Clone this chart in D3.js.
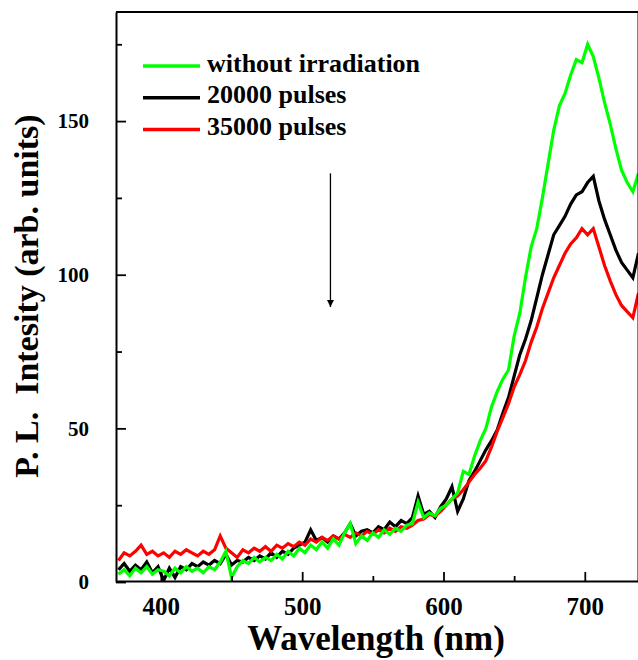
<!DOCTYPE html>
<html>
<head>
<meta charset="utf-8">
<script src="https://cdn.jsdelivr.net/npm/d3@7"></script>
<style>
  body { margin: 0; background: #fff; }
  svg { display: block; }
  text { font-family: "Liberation Serif", "Times New Roman", serif; font-weight: bold; fill: #000; }
</style>
</head>
<body>
<svg width="638" height="660"></svg>
<script>
// PL spectra, values (arb. units)
var wavelength = [370,374,378,382,386,390,394,398,402,406,410,414,418,422,426,430,434,438,
  442,446,450,454,458,462,466,470,474,478,482,486,490,494,498,502,506,510,
  514,518,522,526,530,534,538,542,546,550,554,558,562,566,570,574,578,582,
  586,590,594,598,602,606,610,614,618,622,626,630,634,638,642,646,650,654,
  658,662,666,670,674,678,682,686,690,694,698,702,706,710,714,718,722,726,
  730,734,738];

var withoutIrr = [2.5,4,2,4.5,3,5,2.5,4,3.5,2,4.5,3,5,3.5,4.5,3,5,4,
  6.5,10,1.5,5,7,6,8,6.5,8,7,9,7.5,10,8.5,11,9.5,12,10.5,
  13,11,14,12,16,19,12.5,15,13.5,16,14.5,17,15.5,17.5,16.5,18.5,19,26,
  21,22.5,21.5,24,25,27,29,36,35,41,46,50,57,62,66,69,80,87.5,
  99,109,115,125,136,147,155,159,165,170,169,175,171,164,156,149,141,134,
  130,127,133];

var pulses20000 = [4,6,3.5,5.5,4,6.5,3,5,0.5,4.5,1.5,5,4,6,5,6.5,5.5,7,
  6,9,5.5,7,6.5,8,7,8.5,7.5,9.5,8,10,9,11,12,13,17,13.5,
  14.5,13,15,14,16,19,15,16.5,17,16,18,17,19.5,18,20,19,21,28,
  22,23,21,24.5,27,31,23,27,33,36,39.5,43,46,49.5,55,60,67,74,
  79,85,92.5,100,106.5,113,116,119,123,126,127,130,132,124,118,113,108,104,
  101.5,99,107];

var pulses35000 = [7,9.5,8.5,10,12,9,10,8.5,9.5,8,10,9,10.5,9.5,8.5,10,9,10.5,
  15,11,9.5,8,10.5,9.5,11,10,11.5,10,12,11,12.5,11.5,13,12,14,13,
  14.5,13.5,15,14,15.5,14.5,16,15,16.5,15.5,17,16,17.5,16.5,18,17.5,18.5,20,
  20.5,22,21.5,23,25,27,28,30,32.5,35,37,39.5,44,49,53.5,58,63.5,67.5,
  72,78,83,89,94,99,103,107,110,112,115,113,115,109,103,98,93.5,90,
  88,86,94];

var xTicks = [400, 500, 600, 700];
var xMinor = [450, 550, 650];
var yTicks = [0, 50, 100, 150];
var yMinor = [25, 75, 125, 175];

// arrow marking the decrease (wavelength, from, to)
var arrowAt = 520, arrowFrom = 133, arrowTo = 89.5;

var svg = d3.select("svg");

var x = d3.scaleLinear().domain([368.6, 738]).range([116.5, 638.5]),
    y = d3.scaleLinear().domain([0, 185.5]).range([582, 12]);

svg.append("defs").append("clipPath").attr("id", "plot")
  .append("rect").attr("x", 117).attr("y", 12).attr("width", 521).attr("height", 570);

var series = [
  {name: "20000 pulses", values: pulses20000, color: "#000000"},
  {name: "35000 pulses", values: pulses35000, color: "#ff0000"},
  {name: "without irradiation", values: withoutIrr, color: "#00ff00"}
];

var line = d3.line()
  .x(function(d, i) { return x(wavelength[i]); })
  .y(function(d) { return y(d); });

svg.append("g").attr("clip-path", "url(#plot)")
  .selectAll("path")
  .data(series)
  .enter().append("path")
    .attr("d", function(s) { return line(s.values); })
    .attr("fill", "none")
    .attr("stroke", function(s) { return s.color; })
    .attr("stroke-width", 3.2);

// frame (top and right)
svg.append("path")
  .attr("d", "M116,12H638.5V582")
  .attr("fill", "none").attr("stroke", "#000").attr("stroke-width", 2);

// axes, ticks point inward
var gx = svg.append("g").attr("transform", "translate(0,581)")
  .call(d3.axisBottom(x).tickValues(xTicks).tickSize(-9).tickSizeOuter(0).tickPadding(16));
svg.append("g").attr("transform", "translate(0,581)")
  .call(d3.axisBottom(x).tickValues(xMinor).tickSize(-5).tickSizeOuter(0).tickFormat(""))
  .select(".domain").remove();
gx.selectAll("text").style("font-size", "25px");

var gy = svg.append("g").attr("transform", "translate(116,0)")
  .call(d3.axisLeft(y).tickValues(yTicks).tickSize(-10).tickSizeOuter(0).tickPadding(27));
svg.append("g").attr("transform", "translate(116,0)")
  .call(d3.axisLeft(y).tickValues(yMinor).tickSize(-6).tickSizeOuter(0).tickFormat(""))
  .select(".domain").remove();
gy.selectAll("text").style("font-size", "21px");

svg.selectAll(".domain").attr("stroke-width", 2);
svg.selectAll(".tick line").attr("stroke-width", 1.8);

// axis titles
svg.append("text")
  .attr("x", 376).attr("y", 650)
  .attr("text-anchor", "middle")
  .style("font-size", "35px")
  .text("Wavelength (nm)");

svg.append("text")
  .attr("transform", "translate(38,296) rotate(-90)")
  .attr("text-anchor", "middle")
  .style("font-size", "34px")
  .style("white-space", "pre")
  .text("P. L.  Intesity (arb. units)");

// legend
var legend = svg.append("g").selectAll("g")
  .data([series[2], series[0], series[1]])
  .enter().append("g")
    .attr("transform", function(d, i) { return "translate(0," + (66 + i * 31.7) + ")"; });
legend.append("line")
  .attr("x1", 143).attr("x2", 200)
  .attr("stroke", function(d) { return d.color; })
  .attr("stroke-width", 3.5);
legend.append("text")
  .attr("x", 207).attr("y", 5.5)
  .style("font-size", "26px")
  .text(function(d) { return d.name; });

// arrow
svg.append("defs").append("marker")
  .attr("id", "head").attr("viewBox", "0 0 10 10")
  .attr("refX", 10).attr("refY", 5)
  .attr("markerUnits", "userSpaceOnUse")
  .attr("markerWidth", 10).attr("markerHeight", 7)
  .attr("orient", "auto")
  .append("path").attr("d", "M0,0L10,5L0,10Z").attr("fill", "#000");
svg.append("line")
  .attr("x1", x(arrowAt)).attr("x2", x(arrowAt))
  .attr("y1", y(arrowFrom)).attr("y2", y(arrowTo))
  .attr("stroke", "#000").attr("stroke-width", 1.3)
  .attr("marker-end", "url(#head)");
</script>
</body>
</html>
